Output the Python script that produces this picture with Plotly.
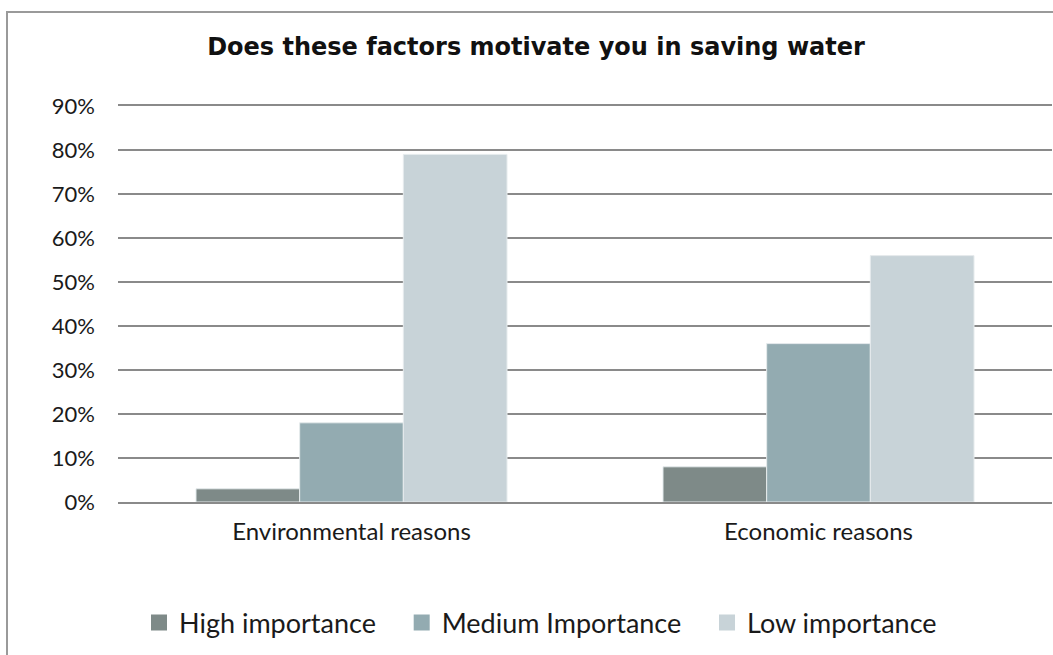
import plotly.graph_objects as go

categories = ["Environmental reasons", "Economic reasons"]
high_importance = [0.03, 0.08]
medium_importance = [0.18, 0.36]
low_importance = [0.79, 0.56]

series = [
    ("High importance", high_importance, "#7e8a88"),
    ("Medium Importance", medium_importance, "#93abb1"),
    ("Low importance", low_importance, "#c8d3d8"),
]

FONT = "Lato"
TITLE_FONT = "DejaVu Sans"
GRID = "#8a8a8a"
TEXT = "#1a1a1a"
PAD = "\u00a0\u00a0\u00a0"  # extra room after each legend label

fig = go.Figure()
for name, values, color in series:
    fig.add_trace(go.Bar(
        x=categories, y=values, name=name, showlegend=False,
        marker=dict(color=color, line=dict(color="#e6ebed", width=1)),
    ))
# legend entries drawn as square swatches
for name, values, color in series:
    fig.add_trace(go.Scatter(
        x=[None], y=[None], name=name + PAD, mode="markers",
        marker=dict(symbol="square", size=16, color=color),
    ))

W, H = 1053, 655
L, R, T, B = 118, 1, 106, 153
pw, ph = W - L - R, H - T - B

def px_x(px):
    return (px - L) / pw

def px_y(py):
    return (H - B - py) / ph

fig.update_layout(
    width=W, height=H,
    margin=dict(l=L, r=R, t=T, b=B),
    paper_bgcolor="white", plot_bgcolor="white",
    barmode="group", bargap=0.334, bargroupgap=0,
    font=dict(family=FONT, size=22, color=TEXT),
    title=dict(
        text="<b>Does these factors motivate you in saving water</b>",
        x=536 / W, xanchor="center", xref="container",
        y=1 - 47 / H, yanchor="middle", yref="container",
        font=dict(family=TITLE_FONT, size=24, color="#111111"),
    ),
    xaxis=dict(
        showgrid=False, zeroline=False,
        showline=True, mirror=True, linecolor=GRID, linewidth=2,
        ticks="", ticklabelstandoff=7,
        tickfont=dict(size=24, color=TEXT),
    ),
    yaxis=dict(
        range=[0, 0.9], dtick=0.1, tickformat=".0%",
        showgrid=True, gridcolor=GRID, gridwidth=2,
        zeroline=False, showline=False, ticks="",
        ticklabelstandoff=22,
        tickfont=dict(size=22, color=TEXT),
    ),
    legend=dict(
        orientation="h", x=px_x(551), xanchor="center",
        y=px_y(623), yanchor="middle",
        font=dict(size=27, color=TEXT),
        itemwidth=30, traceorder="normal", itemsizing="trace",
    ),
    showlegend=True,
    shapes=[
        dict(type="rect", xref="paper", yref="paper",
             x0=px_x(7), x1=px_x(1070), y0=px_y(700), y1=px_y(12),
             line=dict(color="#9a9a9a", width=2), fillcolor="rgba(0,0,0,0)",
             layer="below"),
    ],
)

fig.write_html("out.html")
